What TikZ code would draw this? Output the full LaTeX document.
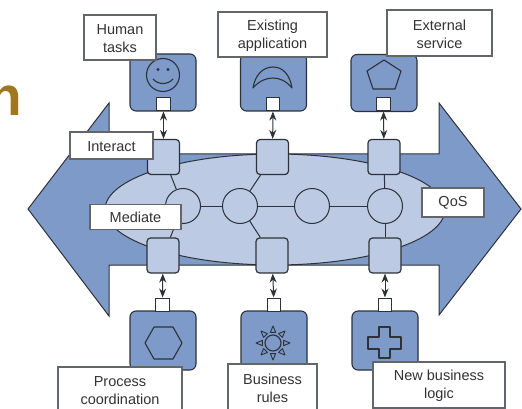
\documentclass[tikz,border=0pt]{standalone}
\usepackage{fontspec}
\setmainfont{Liberation Sans}
\usetikzlibrary{arrows.meta,calc,shapes.geometric}
\definecolor{mid}{HTML}{7D9AC8}
\definecolor{pale}{HTML}{BCCAE3}
\definecolor{ink}{HTML}{2E3238}
\definecolor{lab}{HTML}{333333}
\definecolor{gold}{HTML}{A0761E}
\tikzset{
 lane/.style={draw=ink,fill=pale,rounded corners=3.5pt,minimum width=32pt,minimum height=35pt,inner sep=0pt,line width=1.2pt},
 svc/.style={draw=ink,fill=mid,rounded corners=6pt,minimum width=66pt,minimum height=57pt,inner sep=0pt,line width=1.1pt},
 port/.style={draw=ink,fill=white,minimum width=13.5pt,minimum height=13pt,inner sep=0pt},
 hub/.style={draw=ink,fill=pale,circle,minimum size=35pt,inner sep=0pt},
 lbl/.style={draw=ink!75,fill=white,inner sep=0pt,line width=1.1pt},
 lbltxt/.style={inner sep=0pt,align=center,text=lab,font=\fontsize{14.5}{18}\selectfont},
 icon/.style={draw=ink,line join=round,line width=1.1pt},
 link/.style={draw=ink},
 duo/.style={draw=ink,line width=1pt,{Stealth[length=9pt,width=7pt]}-{Stealth[length=9pt,width=7pt]}},
}
\begin{document}
\begin{tikzpicture}[x=1pt,y=-1pt,line width=1pt]
\useasboundingbox (0,0) rectangle (522,409);
\clip (0,0) rectangle (522,409);
\node[text=gold,font=\fontsize{55}{55}\selectfont\bfseries,anchor=base east,inner sep=0pt] (title) at (23,116) {n};
% big arrow
\draw[fill=mid,draw=ink,line join=miter] (28,209) -- (109,103) -- (109,154) -- (439,154) -- (439,103) -- (521,209) -- (439,315) -- (439,265) -- (109,265) -- (109,316) -- cycle;
\node[draw=ink,fill=pale,ellipse,minimum width=340pt,minimum height=111pt,inner sep=0pt] (bus) at (275,209.5) {};
% hubs
\node[hub] (h1) at (183,206) {};
\node[hub] (h2) at (240,206) {};
\node[hub] (h3) at (312,206) {};
\node[hub] (h4) at (385,206) {};
% lanes
\node[lane] (t1) at (163.5,157) {};
\node[lane] (t2) at (272.5,157) {};
\node[lane] (t3) at (384,157) {};
\node[lane] (b1) at (163,255.5) {};
\node[lane] (b2) at (272,255.5) {};
\node[lane] (b3) at (385,255.5) {};
\draw[link] (h1) -- (h2);
\draw[link] (h2) -- (h3);
\draw[link] (h3) -- (h4);
\draw[link] (t1) -- (h1);
\draw[link] (t2) -- (h2);
\draw[link] (t3) -- (h4);
\draw[link] (b1) -- (h1);
\draw[link] (b2) -- (h2);
\draw[link] (b3) -- (h4);
% services
\node[svc] (s1) at (163,82.5) {};
\node[svc] (s2) at (273.5,82.5) {};
\node[svc] (s3) at (384,83) {};
\node[svc,minimum height=59pt] (s4) at (163,340.5) {};
\node[svc,minimum height=59pt] (s5) at (274,340.5) {};
\node[svc,minimum height=59pt] (s6) at (385,340.5) {};
\node[port] (p1) at (163.5,104.5) {};
\node[port] (p2) at (273,104.5) {};
\node[port] (p3) at (383.5,104.5) {};
\node[port] (p4) at (162.5,304.5) {};
\node[port] (p5) at (274,304.5) {};
\node[port] (p6) at (385,304.5) {};
\draw[duo] (p1) -- (t1);
\draw[duo] (p2) -- (t2);
\draw[duo] (p3) -- (t3);
\draw[duo] (p4) -- (b1);
\draw[duo] (p5) -- (b2);
\draw[duo] (p6) -- (b3);
% icons
\draw[icon] (163,75) circle[radius=16.5];
\fill[ink] (158,69.5) circle[radius=1.6] (168,69.5) circle[radius=1.6];
\draw[icon] (153,79) .. controls (158,85) and (168,85) .. (173,79);
\draw[icon] (253,88) .. controls (255,75) and (263,67) .. (273,67) .. controls (283,67) and (290,75) .. (292,88) .. controls (286,81) and (280,78) .. (273,78) .. controls (266,78) and (259,81) .. cycle;
\draw[icon] (384,60) -- (401,71) -- (395,89) -- (373,89) -- (367,71) -- cycle;
\draw[icon] (145,343) -- (154,327) -- (173,327) -- (182,343) -- (173,359) -- (154,359) -- cycle;
\draw[icon] (379,327) -- (390,327) -- (390,337) -- (401,337) -- (401,349) -- (390,349) -- (390,358) -- (379,358) -- (379,349) -- (368,349) -- (368,337) -- (379,337) -- cycle;
\draw[icon] (273,343) circle[radius=8];
\foreach \a in {0,45,...,315}{
 \draw[icon,line width=0.9pt] ($(273,343)+(\a-14:11)$) -- ($(273,343)+(\a:17)$) -- ($(273,343)+(\a+14:11)$) -- cycle;
}
% labels
\node[lbl,minimum width=72pt,minimum height=45pt,label={[lbltxt,yshift=-1pt]center:{Human\\tasks}}] (l1) at (120,37.5) {};
\node[lbl,minimum width=109pt,minimum height=45pt,label={[lbltxt,yshift=-1pt]center:{Existing\\application}}] (l2) at (272.5,34.5) {};
\node[lbl,minimum width=105pt,minimum height=46pt,label={[lbltxt,yshift=-1pt]center:{External\\service}}] (l3) at (439.5,33) {};
\node[lbl,minimum width=83pt,minimum height=27pt,label={[lbltxt,yshift=-1.5pt]center:Interact}] (l4) at (111.5,145.5) {};
\node[lbl,minimum width=91pt,minimum height=25pt,label={[lbltxt]center:Mediate}] (l5) at (135.5,217) {};
\node[lbl,minimum width=62pt,minimum height=29pt,label={[lbltxt]center:QoS}] (l6) at (453,202.5) {};
\node[lbl,minimum width=124pt,minimum height=44pt,label={[lbltxt,yshift=-2pt]center:{Process\\coordination}}] (l7) at (120,389) {};
\node[lbl,minimum width=89pt,minimum height=47pt,label={[lbltxt,yshift=-1pt]center:{Business\\rules}}] (l8) at (272.5,387.5) {};
\node[lbl,minimum width=132pt,minimum height=46pt,label={[lbltxt,yshift=-1pt]center:{New business\\logic}}] (l9) at (439,385) {};
\end{tikzpicture}
\end{document}
